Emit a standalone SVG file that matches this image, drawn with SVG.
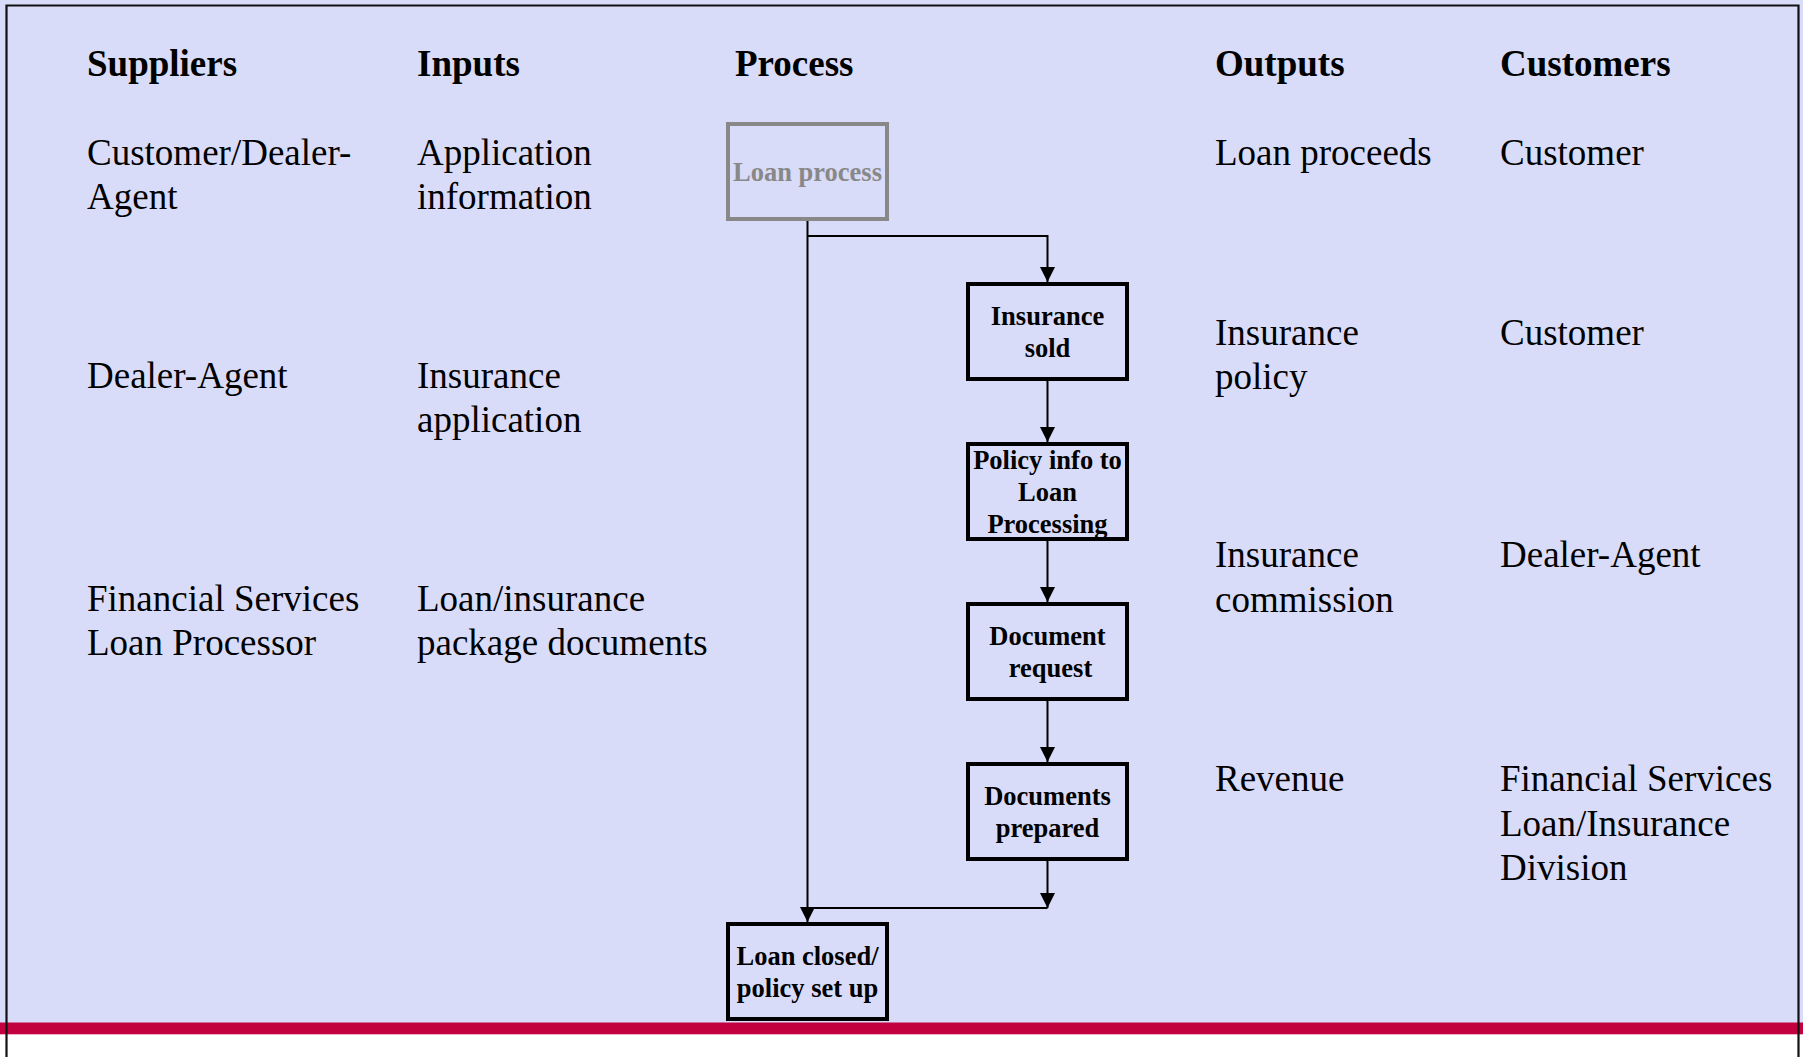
<svg xmlns="http://www.w3.org/2000/svg" width="1803" height="1057" viewBox="0 0 1803 1057">
  <style>
    .hdr { font-family: "Liberation Serif", "Times New Roman", serif; font-size: 37px; font-weight: bold; fill: #000; }
    .txt { font-family: "Liberation Serif", "Times New Roman", serif; font-size: 37px; fill: #000; }
    .box { fill: none; stroke: #000; stroke-width: 4; }
    .box-muted { fill: none; stroke: #888888; stroke-width: 4; }
    .lbl { font-family: "Liberation Serif", "Times New Roman", serif; font-size: 26.5px; font-weight: bold; fill: #000; text-anchor: middle; }
    .lbl-muted { fill: #888888; }
    .wire { fill: none; stroke: #000; stroke-width: 2; }
  </style>
  <defs>
    <marker id="arrow" viewBox="0 0 15 15" refX="15" refY="7.5" markerWidth="15" markerHeight="15" markerUnits="userSpaceOnUse" orient="auto">
      <path d="M0,0 L15,7.5 L0,15 Z" fill="#000"/>
    </marker>
  </defs>

  <!-- page background and frame -->
  <rect x="0" y="0" width="1803" height="1057" fill="#D9DCF8"/>
  <rect x="0" y="1034" width="1803" height="23" fill="#FFFFFF"/>
  <rect x="0" y="1022.5" width="1803" height="11.8" fill="#C2003F"/>
  <path d="M6.5,1057 V5.5 H1798.5 V1057" fill="none" stroke="#111" stroke-width="2.2"/>

  <!-- column headings -->
  <g id="headings">
    <text class="hdr" x="87" y="76">Suppliers</text>
    <text class="hdr" x="417" y="76">Inputs</text>
    <text class="hdr" x="735" y="76">Process</text>
    <text class="hdr" x="1215" y="76">Outputs</text>
    <text class="hdr" x="1500" y="76">Customers</text>
  </g>

  <!-- suppliers column -->
  <g id="suppliers">
    <text class="txt" x="87" y="165">Customer/Dealer-</text>
    <text class="txt" x="87" y="209">Agent</text>
    <text class="txt" x="87" y="388">Dealer-Agent</text>
    <text class="txt" x="87" y="611">Financial Services</text>
    <text class="txt" x="87" y="655">Loan Processor</text>
  </g>

  <!-- inputs column -->
  <g id="inputs">
    <text class="txt" x="417" y="165">Application</text>
    <text class="txt" x="417" y="209">information</text>
    <text class="txt" x="417" y="388">Insurance</text>
    <text class="txt" x="417" y="432">application</text>
    <text class="txt" x="417" y="611">Loan/insurance</text>
    <text class="txt" x="417" y="655">package documents</text>
  </g>

  <!-- outputs column -->
  <g id="outputs">
    <text class="txt" x="1215" y="165">Loan proceeds</text>
    <text class="txt" x="1215" y="345">Insurance</text>
    <text class="txt" x="1215" y="389">policy</text>
    <text class="txt" x="1215" y="567">Insurance</text>
    <text class="txt" x="1215" y="612">commission</text>
    <text class="txt" x="1215" y="791">Revenue</text>
  </g>

  <!-- customers column -->
  <g id="customers">
    <text class="txt" x="1500" y="165">Customer</text>
    <text class="txt" x="1500" y="345">Customer</text>
    <text class="txt" x="1500" y="567">Dealer-Agent</text>
    <text class="txt" x="1500" y="791">Financial Services</text>
    <text class="txt" x="1500" y="836">Loan/Insurance</text>
    <text class="txt" x="1500" y="880">Division</text>
  </g>

  <!-- process flow connectors -->
  <g id="connectors">
    <path class="wire" d="M807.5,221 V922" marker-end="url(#arrow)"/>
    <path class="wire" d="M807.5,236 H1047.5 V282" marker-end="url(#arrow)"/>
    <path class="wire" d="M1047.5,381 V442" marker-end="url(#arrow)"/>
    <path class="wire" d="M1047.5,541 V602" marker-end="url(#arrow)"/>
    <path class="wire" d="M1047.5,701 V762" marker-end="url(#arrow)"/>
    <path class="wire" d="M1047.5,861 V908" marker-end="url(#arrow)"/>
    <path class="wire" d="M1047.5,908 H807.5"/>
  </g>

  <!-- process steps -->
  <g id="loan-process">
    <rect class="box-muted" x="728" y="124" width="159" height="95"/>
    <text class="lbl lbl-muted" x="807.5" y="181">Loan process</text>
  </g>
  <g id="insurance-sold">
    <rect class="box" x="968" y="284" width="159" height="95"/>
    <text class="lbl" x="1047.5" y="325">Insurance</text>
    <text class="lbl" x="1047.5" y="357">sold</text>
  </g>
  <g id="policy-info">
    <rect class="box" x="968" y="444" width="159" height="95"/>
    <text class="lbl" x="1047.5" y="469">Policy info to</text>
    <text class="lbl" x="1047.5" y="501">Loan</text>
    <text class="lbl" x="1047.5" y="533">Processing</text>
  </g>
  <g id="document-request">
    <rect class="box" x="968" y="604" width="159" height="95"/>
    <text class="lbl" x="1047.5" y="645">Document</text>
    <text class="lbl" x="1050.5" y="677">request</text>
  </g>
  <g id="documents-prepared">
    <rect class="box" x="968" y="764" width="159" height="95"/>
    <text class="lbl" x="1047.5" y="805">Documents</text>
    <text class="lbl" x="1047.5" y="837">prepared</text>
  </g>
  <g id="loan-closed">
    <rect class="box" x="728" y="924" width="159" height="95"/>
    <text class="lbl" x="807.5" y="965">Loan closed/</text>
    <text class="lbl" x="807.5" y="997">policy set up</text>
  </g>
</svg>
